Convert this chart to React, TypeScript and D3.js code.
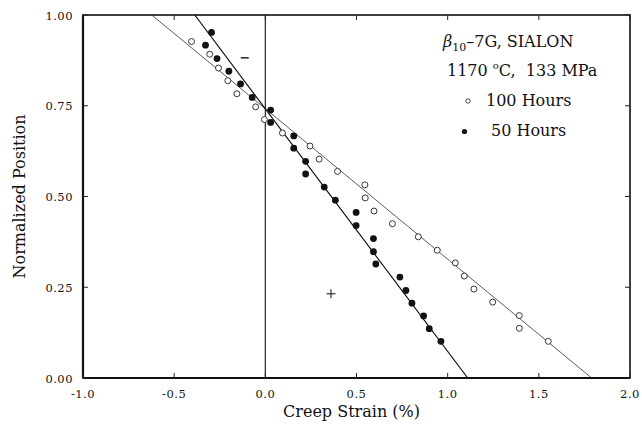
import * as d3 from 'd3';

// creep strain (%) vs normalized position, beta10-7G SIALON at 1170 C / 133 MPa
const strain50 = [-0.295, -0.328, -0.265, -0.2, -0.136, -0.072, 0.029, 0.029, 0.156, 0.156, 0.221, 0.221, 0.323, 0.384, 0.498, 0.498, 0.593, 0.593, 0.606, 0.738, 0.771, 0.804, 0.868, 0.899, 0.963];
const pos50 = [0.952, 0.917, 0.88, 0.845, 0.81, 0.773, 0.738, 0.704, 0.667, 0.633, 0.597, 0.562, 0.526, 0.49, 0.456, 0.42, 0.384, 0.348, 0.314, 0.278, 0.241, 0.206, 0.171, 0.136, 0.101];

const strain100 = [-0.405, -0.305, -0.257, -0.206, -0.156, -0.053, -0.005, 0.094, 0.245, 0.295, 0.396, 0.546, 0.548, 0.596, 0.697, 0.839, 0.943, 1.042, 1.091, 1.144, 1.247, 1.393, 1.393, 1.552];
const pos100 = [0.927, 0.892, 0.854, 0.819, 0.783, 0.747, 0.712, 0.675, 0.639, 0.603, 0.569, 0.532, 0.496, 0.46, 0.425, 0.389, 0.352, 0.317, 0.281, 0.245, 0.209, 0.172, 0.137, 0.101];

// fitted lines (strain, position) end points
const fit50: [number, number][] = [[-0.387, 1.0], [1.11, 0.0]];
const fit100: [number, number][] = [[-0.623, 1.0], [1.79, 0.0]];

const xTicks = [-1.0, -0.5, 0.0, 0.5, 1.0, 1.5, 2.0];
const yTicks = [0.0, 0.25, 0.5, 0.75, 1.0];

// stray marks in the figure (tension / compression side)
const plusMark = [0.36, 0.232];
const minusMark = [-0.113, 0.882];

const W = 642;
const H = 424;
const m = { l: 83, r: 12, t: 15, b: 46 };

export default function App() {
  const x = d3.scaleLinear().domain([-1, 2]).range([m.l, W - m.r]);
  const y = d3.scaleLinear().domain([0, 1]).range([H - m.b, m.t]);
  const line = d3.line<[number, number]>().x(d => x(d[0])).y(d => y(d[1]));
  const fx = (v: number) => d3.format('.1f')(v).replace('−', '-');
  const fy = d3.format('.2f');
  const font = 'DejaVu Serif';
  const tick = 5;

  return (
    <svg width={W} height={H} style={{ position: 'absolute', left: 0, top: 0, background: '#fff' }}>
      <defs>
        <clipPath id="plot">
          <rect x={m.l} y={m.t} width={W - m.r - m.l} height={H - m.b - m.t} />
        </clipPath>
      </defs>

      {/* zero strain line */}
      <line x1={x(0)} x2={x(0)} y1={y(0)} y2={y(1)} stroke="#222" strokeWidth={1.2} />

      <g clipPath="url(#plot)">
        <path d={line(fit100) || ''} stroke="#333" strokeWidth={0.8} fill="none" />
        <path d={line(fit50) || ''} stroke="#111" strokeWidth={1.15} fill="none" />
      </g>

      {strain100.map((s, i) => (
        <circle key={'o' + i} cx={x(s)} cy={y(pos100[i])} r={3} fill="#fff" stroke="#222" strokeWidth={0.9} />
      ))}
      {strain50.map((s, i) => (
        <circle key={'f' + i} cx={x(s)} cy={y(pos50[i])} r={3.4} fill="#111" />
      ))}

      {/* + and - marks */}
      <g stroke="#222" strokeWidth={1.1}>
        <line x1={x(plusMark[0]) - 4.5} x2={x(plusMark[0]) + 4.5} y1={y(plusMark[1])} y2={y(plusMark[1])} />
        <line x1={x(plusMark[0])} x2={x(plusMark[0])} y1={y(plusMark[1]) - 4.5} y2={y(plusMark[1]) + 4.5} />
        <line x1={x(minusMark[0]) - 4} x2={x(minusMark[0]) + 4} y1={y(minusMark[1])} y2={y(minusMark[1])} strokeWidth={1.5} />
      </g>

      {/* frame */}
      <rect x={m.l} y={m.t} width={W - m.r - m.l} height={H - m.b - m.t} fill="none" stroke="#111" strokeWidth={1.6} />
      <line x1={m.l} x2={m.l} y1={m.t} y2={H - m.b} stroke="#111" strokeWidth={2.2} />
      <line x1={m.l} x2={W - m.r} y1={H - m.b} y2={H - m.b} stroke="#111" strokeWidth={2.2} />

      {/* ticks */}
      <g stroke="#222" strokeWidth={1}>
        {xTicks.map(t => (
          <g key={'xt' + t}>
            <line x1={x(t)} x2={x(t)} y1={y(0)} y2={y(0) - tick} />
            <line x1={x(t)} x2={x(t)} y1={y(1)} y2={y(1) + tick} />
          </g>
        ))}
        {yTicks.map(t => (
          <g key={'yt' + t}>
            <line x1={x(-1)} x2={x(-1) + tick} y1={y(t)} y2={y(t)} />
            <line x1={x(2)} x2={x(2) - tick} y1={y(t)} y2={y(t)} />
          </g>
        ))}
      </g>

      <g fontFamily={font} fontSize={11.5} fill="#111" letterSpacing={0.5}>
        {xTicks.map(t => (
          <text key={'xl' + t} x={x(t)} y={y(0) + 20} textAnchor="middle">{fx(t)}</text>
        ))}
        {yTicks.map(t => (
          <text key={'yl' + t} x={m.l - 10} y={y(t) + 4.5} textAnchor="end">{fy(t)}</text>
        ))}
      </g>

      <text x={(m.l + W - m.r) / 2 - 5} y={417} textAnchor="middle" fontFamily={font} fontSize={16} fill="#111">Creep Strain (%)</text>
      <text transform={`translate(25, ${(m.t + H - m.b) / 2}) rotate(-90)`} textAnchor="middle" fontFamily={font} fontSize={16} fill="#111">Normalized Position</text>

      {/* legend */}
      <g fontFamily={font} fontSize={16} fill="#111">
        <text x={443} y={47}>
          <tspan fontStyle="italic">β</tspan>
          <tspan fontSize={11} dy={4}>10</tspan>
          <tspan dy={-4}>–7G, SIALON</tspan>
        </text>
        <text x={447} y={76}>
          {'1170 '}<tspan fontSize={10} dy={-7}>o</tspan><tspan dy={7}>{'C,\u00a0\u00a0133 MPa'}</tspan>
        </text>
        <text x={486} y={106}>100 Hours</text>
        <text x={491} y={136}>50 Hours</text>
      </g>
      <circle cx={468} cy={101} r={2.2} fill="#fff" stroke="#222" strokeWidth={0.8} />
      <circle cx={464.5} cy={131.5} r={2.6} fill="#111" />
    </svg>
  );
}
